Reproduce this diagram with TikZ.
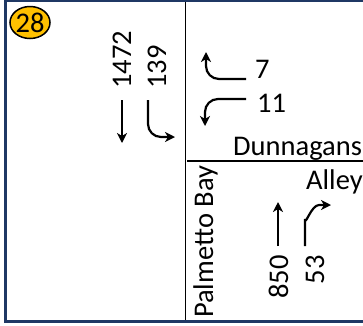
\documentclass[tikz,border=0pt]{standalone}
\usepackage{fontspec}
\setmainfont{Carlito}
\usetikzlibrary{arrows.meta,shapes.geometric}
\definecolor{frameblue}{RGB}{31,56,100}
\definecolor{badge}{RGB}{255,192,0}
\tikzset{
  lbl/.style={inner sep=0pt, font=\fontsize{28.5}{30}\selectfont},
  road/.style={draw=black, line width=1.6pt},
  mv/.style={line width=2.2pt, -{Stealth[length=10pt,width=10pt,inset=3pt]}},
}
\begin{document}
\begin{tikzpicture}[x=1pt,y=-1pt]
\useasboundingbox (0,0) rectangle (363,325);
% frame
\draw[frameblue, line width=1.5pt] (4,1) -- (363,1);
\draw[frameblue, line width=3pt] (5.5,0.5) -- (5.5,323);
\draw[frameblue, line width=3pt] (4,321.5) -- (363,321.5);
% roads
\coordinate (vt) at (185.5,2);
\coordinate (vb) at (185.5,320);
\coordinate (hl) at (187,161);
\coordinate (hr) at (363,161);
\draw[road] (vt) -- (vb);
\draw[road] (hl) -- (hr);
% badge
\node[draw=black, line width=1.5pt, fill=badge, ellipse, minimum width=40pt, minimum height=32pt, inner sep=0pt] (badge) at (30,22.5) {};
\node[lbl] (badgetxt) at (badge.center) {28};
% southbound
\node[lbl, rotate=90, anchor=base west] (n1472) at (131,89) {1472};
\node[lbl, rotate=90, anchor=base west] (n139) at (166,89) {139};
\coordinate (s1a) at (122,100);
\coordinate (s1b) at (122,143);
\draw[mv] (s1a) -- (s1b);
\coordinate (s2a) at (148,100);
\coordinate (s2b) at (175,137);
\draw[mv] (s2a) -- (148,124) to[out=-90,in=180] (161,137) -- (s2b);
% westbound
\node[lbl, anchor=base west] (n7) at (255,78) {7};
\node[lbl, anchor=base west] (n11) at (257,112) {11};
\coordinate (w1a) at (246,79);
\coordinate (w1b) at (206,52);
\draw[mv] (w1a) -- (219,79) to[out=180,in=-90] (206,66) -- (w1b);
\coordinate (w2a) at (246,99);
\coordinate (w2b) at (205,126);
\draw[mv] (w2a) -- (218,99) to[out=180,in=90] (205,112) -- (w2b);
% street names
\node[lbl, anchor=base west] (dunn) at (233,155) {Dunnagans};
\node[lbl, anchor=base west] (alley) at (306,189) {Alley};
\node[lbl, rotate=90, anchor=base west] (palm) at (213,318) {Palmetto Bay};
% northbound
\node[lbl, rotate=90, anchor=base east] (n850) at (288,255) {850};
\node[lbl, rotate=90, anchor=base east] (n53) at (324,255) {53};
\coordinate (nb1a) at (278,246);
\coordinate (nb1b) at (278,202);
\draw[mv] (nb1a) -- (nb1b);
\coordinate (nb2a) at (305,246);
\coordinate (nb2b) at (331,205);
\draw[mv] (nb2a) -- (305,219) to[out=-90,in=180] (319,205) -- (nb2b);
\end{tikzpicture}
\end{document}
